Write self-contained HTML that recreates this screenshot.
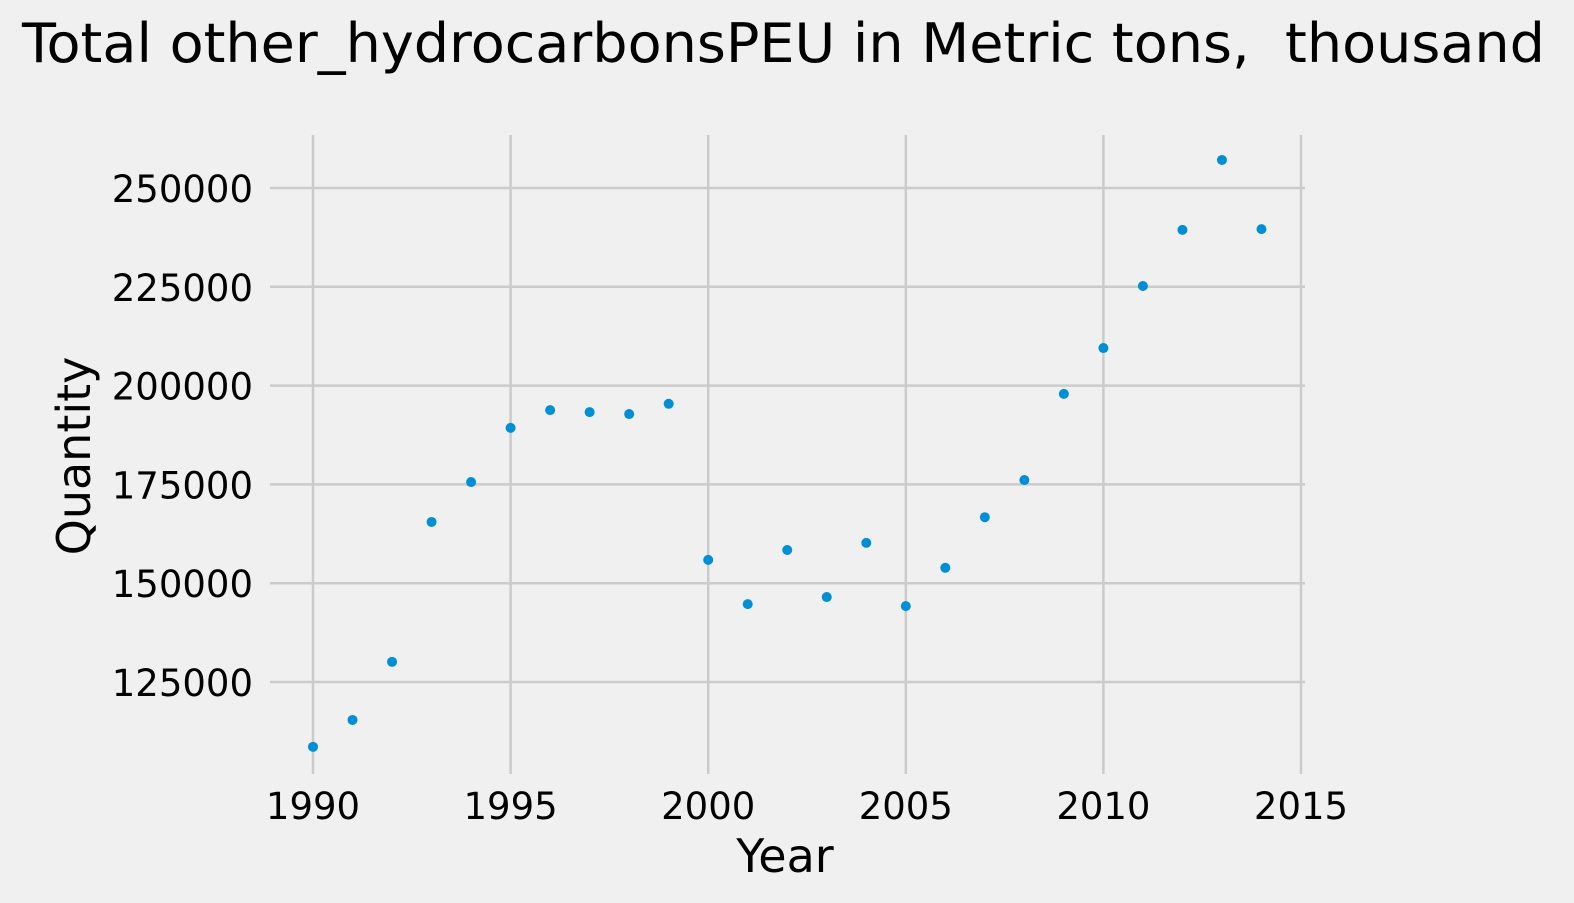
<!DOCTYPE html>
<html><head><meta charset="utf-8"><style>
html,body{margin:0;padding:0;background:#f0f0f0;}
svg{display:block;font-family:"DejaVu Sans","Liberation Sans",sans-serif;}
</style></head><body>
<svg id="chart" width="1574" height="903">
<rect width="1574" height="903" fill="#f0f0f0"/>
<text x="22" y="62" font-size="54" textLength="1523" lengthAdjust="spacingAndGlyphs" fill="#000">Total other_hydrocarbonsPEU in Metric tons,&#160; thousand</text>
<g id="grid"></g>
<g id="ticks"></g>
<g id="points"></g>
<text x="785" y="872" text-anchor="middle" font-size="46" fill="#000">Year</text>
<text transform="translate(90,456) rotate(-90)" text-anchor="middle" font-size="46" fill="#000">Quantity</text>
</svg>
<script>
const years=[1990,1991,1992,1993,1994,1995,1996,1997,1998,1999,2000,2001,2002,2003,2004,2005,2006,2007,2008,2009,2010,2011,2012,2013,2014];
const quantities=[108600,115400,130100,165500,175600,189300,193800,193300,192800,195400,155900,144700,158400,146500,160200,144200,153900,166700,176100,197900,209500,225200,239400,257100,239600];
const xTicks=[1990,1995,2000,2005,2010,2015];
const yTicks=[125000,150000,175000,200000,225000,250000];
const NS="http://www.w3.org/2000/svg";
const GX0=270,GX1=1305,GY0=774,GY1=135;
function sx(v){return 313+(v-1990)*(1301-313)/25;}
function sy(v){return 188+(250000-v)*(682-188)/125000;}
function mk(tag,attrs,parent){const e=document.createElementNS(NS,tag);for(const k in attrs)e.setAttribute(k,attrs[k]);parent.appendChild(e);return e;}
const grid=document.getElementById('grid'),ticks=document.getElementById('ticks'),pts=document.getElementById('points');
xTicks.forEach(t=>{
  const l=mk('line',{x1:sx(t),x2:sx(t),y1:GY1,y2:GY0,stroke:'#cbcbcb','stroke-width':2.5},grid);
  
  
  const tx=mk('text',{x:sx(t),y:819,'text-anchor':'middle','font-size':37,fill:'#000'},ticks);
  tx.textContent=t;
  
  
});
yTicks.forEach(t=>{
  const l=mk('line',{x1:GX0,x2:GX1,y1:sy(t),y2:sy(t),stroke:'#cbcbcb','stroke-width':2.5},grid);
  
  
  const tx=mk('text',{x:253,y:sy(t)+14,'text-anchor':'end','font-size':37,fill:'#000'},ticks);
  tx.textContent=t;
  
  
});
years.forEach((y,i)=>{
  const c=mk('circle',{cx:sx(y),cy:sy(quantities[i]),r:5,fill:'#008fd5'},pts);
  
  
});
</script>
</body></html>
